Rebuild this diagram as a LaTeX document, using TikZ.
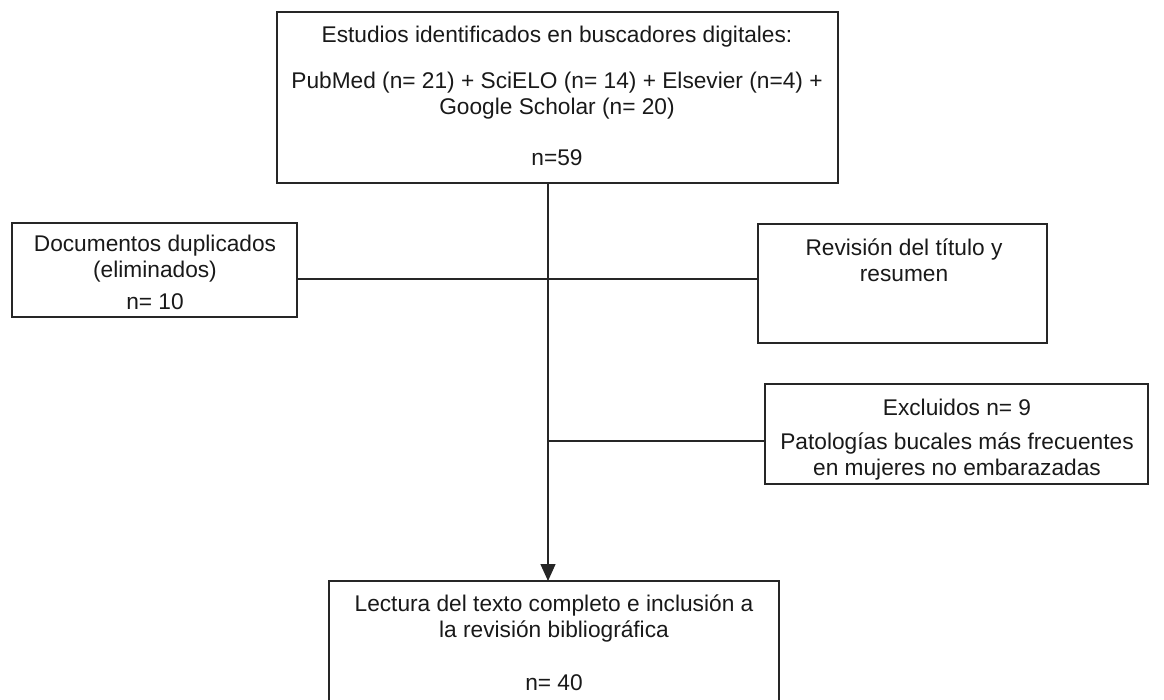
\documentclass[tikz,border=0pt]{standalone}
\usepackage{fontspec}
\setmainfont{Liberation Sans}
\usetikzlibrary{arrows.meta}
\begin{document}
\begin{tikzpicture}[x=1pt,y=-1pt,
  box/.style={draw=black!85,line width=1.4pt,inner sep=0pt,outer sep=0pt,anchor=north west},
  txt/.style={inner sep=0pt,align=center,font=\fontsize{22.7}{26}\selectfont,text=black!90},
  conn/.style={draw=black!85,line width=1.4pt},
]
\useasboundingbox (0,0) rectangle (1164,699);
% top box
\node[box,minimum width=561pt,minimum height=171pt] (T) at (277,12) {};
\node[txt] (t1) at (557,37) {Estudios identificados en buscadores digitales:};
\node[txt] (t2) at (557,96) {PubMed (n= 21) + SciELO (n= 14) + Elsevier (n=4) +\\Google Scholar (n= 20)};
\node[txt] (t3) at (557,158) {n=59};
% left box
\node[box,minimum width=285pt,minimum height=94pt] (L) at (12,223) {};
\node[txt] (l1) at (155,259) {Documentos duplicados\\(eliminados)};
\node[txt] (l2) at (155,302) {n= 10};
% right box
\node[box,minimum width=289pt,minimum height=119pt] (R) at (758,224) {};
\node[txt] (r1) at (904,260) {Revisión del título y\\resumen};
% excluded box
\node[box,minimum width=383pt,minimum height=100pt] (E) at (765,384) {};
\node[txt] (e1) at (957,407) {Excluidos n= 9};
\node[txt] (e2) at (957,456) {Patologías bucales más frecuentes\\en mujeres no embarazadas};
% bottom box (open at bottom)
\node[inner sep=0pt,outer sep=0pt,anchor=north west,minimum width=450pt,minimum height=122pt] (B) at (329,581) {};
\draw[conn] (B.south west) -- (B.north west) -- (B.north east) -- (B.south east);
\node[txt] (b1) at (554,618) {Lectura del texto completo e inclusión a\\la revisión bibliográfica};
\node[txt] (b2) at (554,683) {n= 40};
% connectors
\coordinate (vx) at (548,0);
\coordinate (hy1) at (0,279);
\coordinate (hy2) at (0,441);
\draw[conn,-{Triangle[width=15pt,length=17pt]}] (T.south -| vx) -- (B.north -| vx);
\draw[conn] (L.east |- hy1) -- (R.west |- hy1);
\draw[conn] (vx |- hy2) -- (E.west |- hy2);
\end{tikzpicture}
\end{document}
